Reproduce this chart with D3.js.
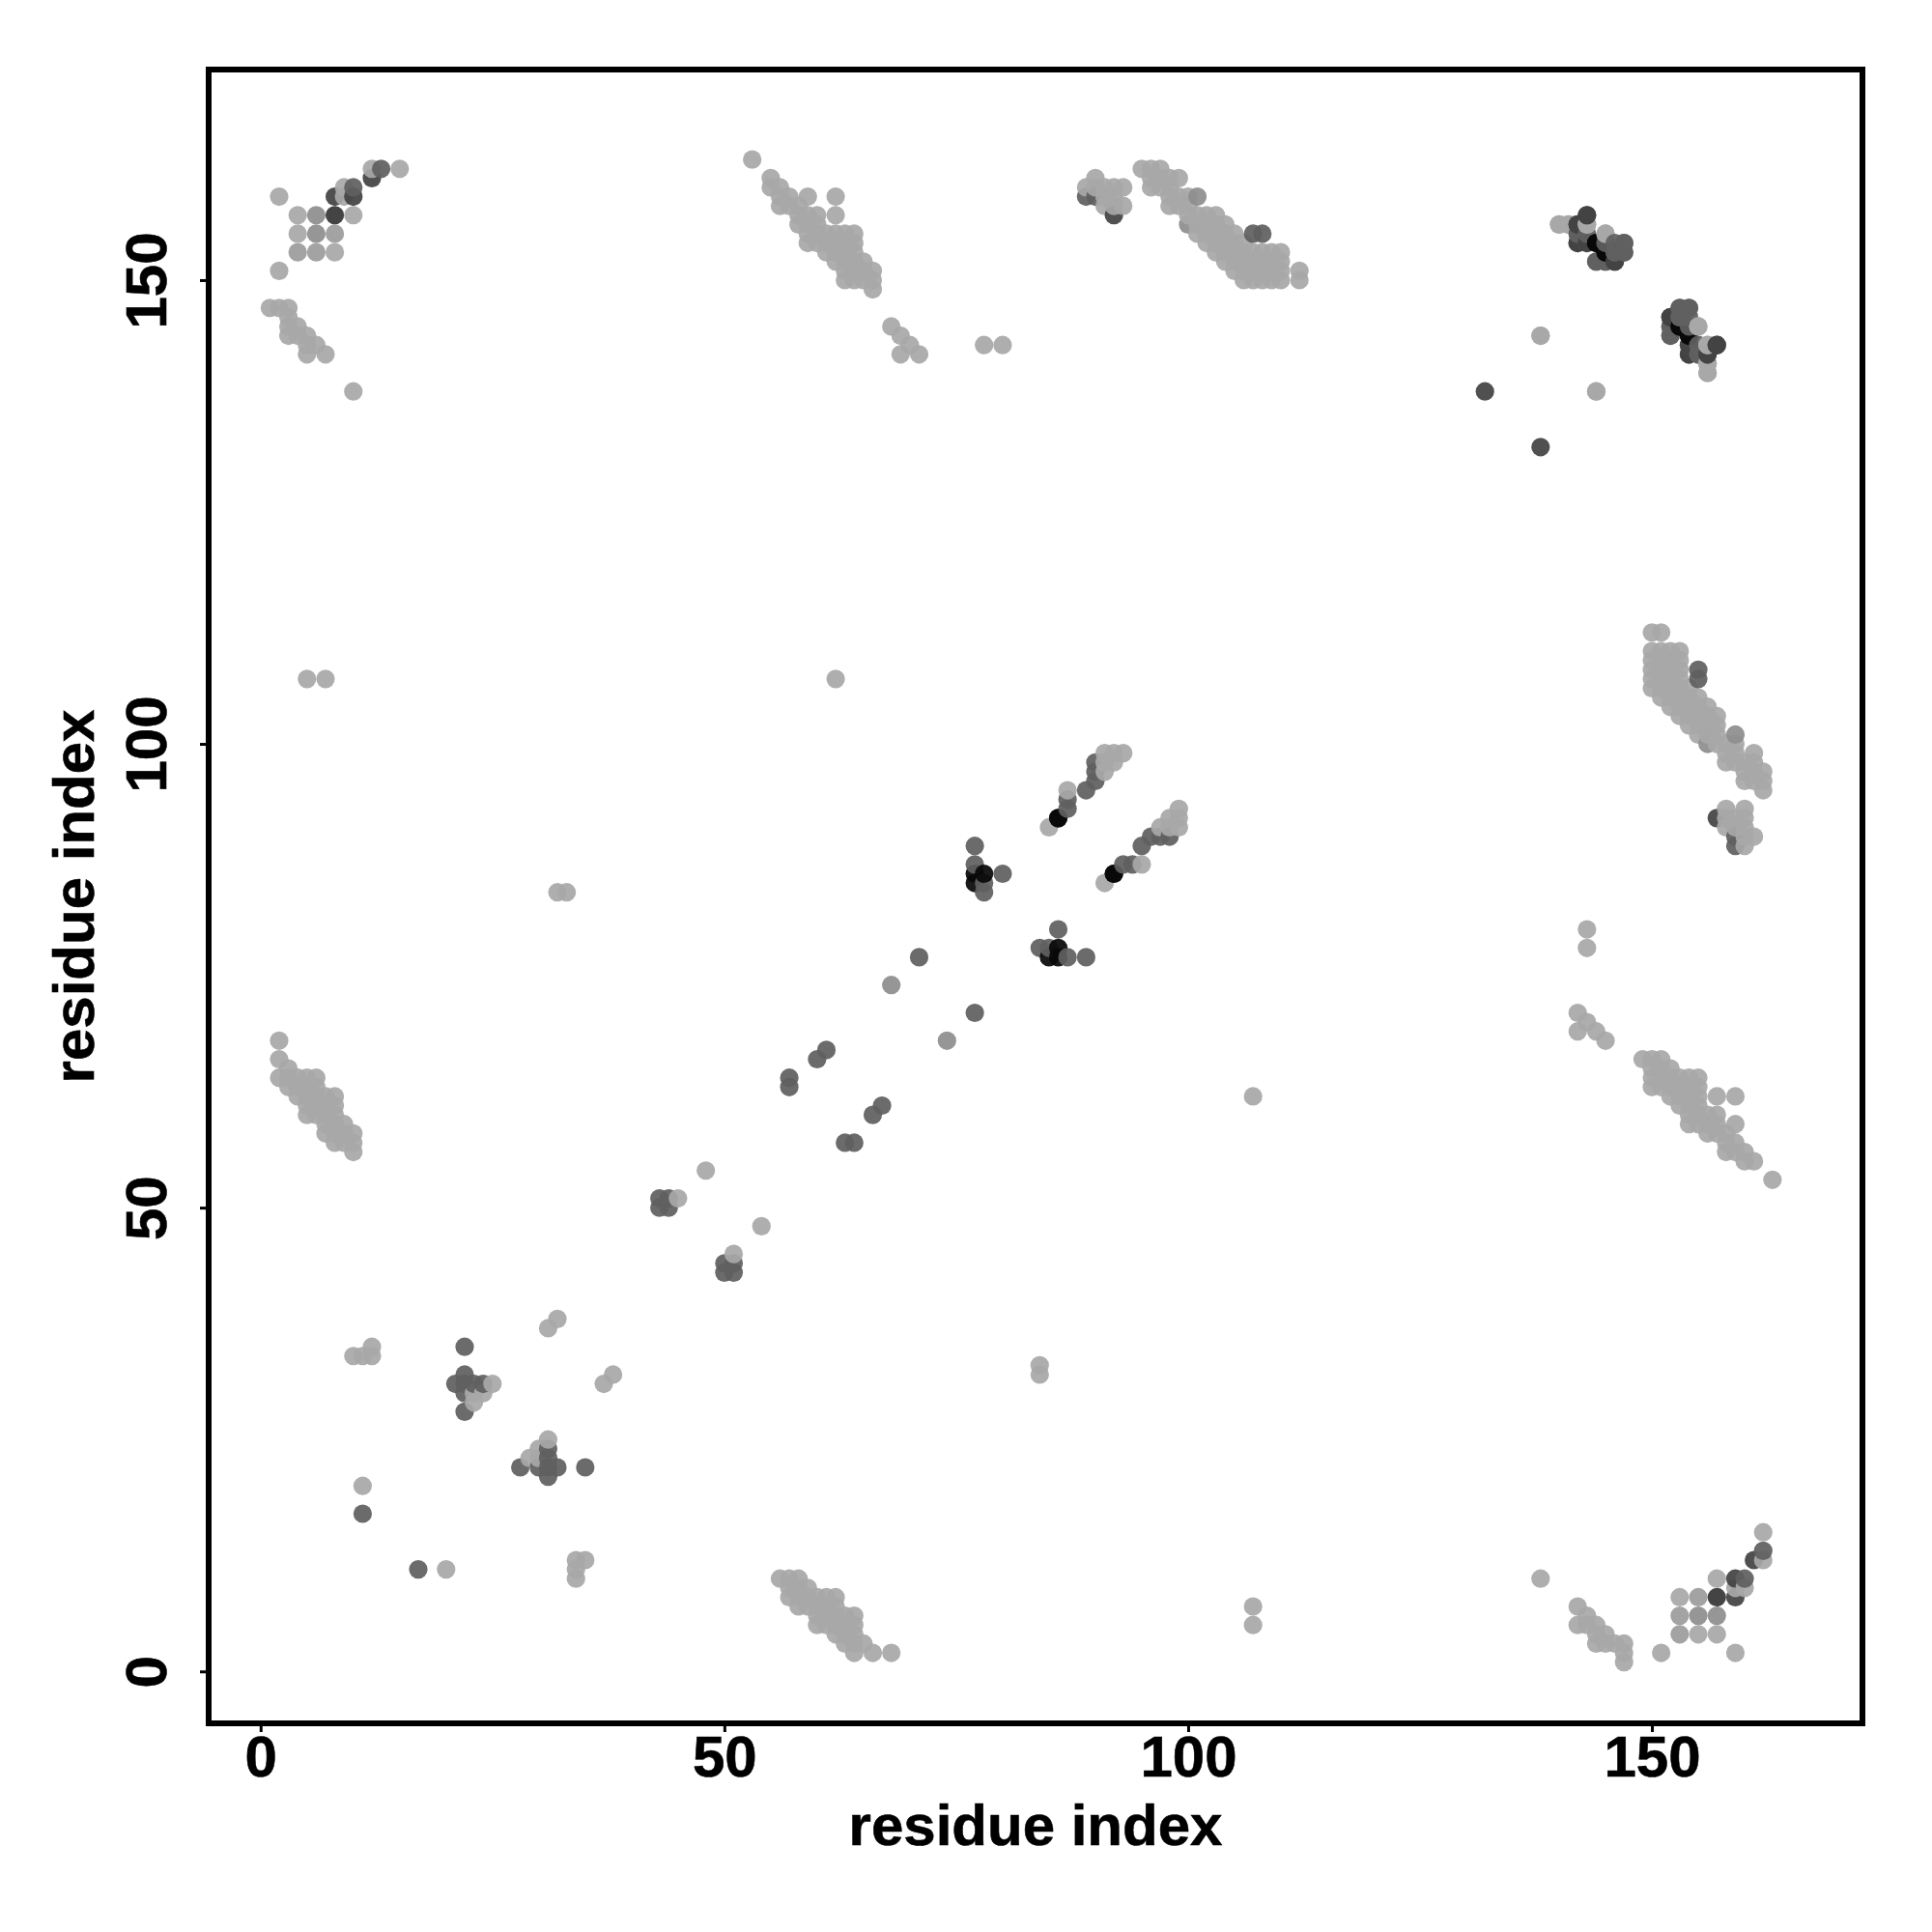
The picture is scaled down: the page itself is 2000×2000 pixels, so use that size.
<!DOCTYPE html>
<html>
<head>
<meta charset="utf-8">
<script src="https://cdn.jsdelivr.net/npm/d3@7"></script>
<style>html,body{margin:0;padding:0;background:#fff}svg{display:block}</style>
</head>
<body>
<svg id="chart" width="2000" height="2000"></svg>
<script>
const xTickValues = [0, 50, 100, 150];
const yTickValues = [0, 50, 100, 150];
const xTitle = "residue index";
const yTitle = "residue index";

// Residue contacts [i, j] (i < j), grouped by contact strength; the map is symmetric.
const contactsWeak = [
  [15,162],[12,162],[9,160],[9,159],[10,157],[4,157],[2,159],[4,155],[8,153],[2,151],
  [1,147],[2,147],[3,147],[3,146],[3,145],[3,144],[4,145],[4,144],[5,144],[5,143],[5,142],[6,143],[7,142],[10,138],
  [53,163],[55,161],[55,160],[56,160],[56,159],[56,158],[57,159],[57,158],[58,158],[58,157],[58,156],
  [59,159],[59,157],[59,156],[59,155],[59,154],[60,157],[60,156],[60,155],[60,154],[61,155],[61,154],[61,153],
  [62,159],[62,157],[62,155],[62,154],[62,153],[62,152],[63,155],[63,154],[63,153],[63,152],[63,151],[63,150],
  [64,155],[64,154],[64,153],[64,152],[64,151],[64,150],[65,152],[65,151],[65,150],[66,151],[66,150],[66,149],
  [68,145],[69,144],[69,142],[70,143],[71,142],[78,143],[80,143],
  [90,161],[89,160],[90,160],[91,160],[91,159],[91,158],[92,160],[92,159],[92,158],[93,160],[93,158],
  [95,162],[96,162],[97,162],[96,161],[96,160],[97,161],[97,160],[98,161],[98,160],[98,159],[98,158],
  [99,161],[99,159],[99,158],[100,159],[100,158],[100,157],[101,157],[101,156],[101,155],
  [102,157],[102,156],[102,155],[102,154],[103,157],[103,156],[103,155],[103,154],[103,153],
  [104,156],[104,155],[104,154],[104,153],[104,152],[105,155],[105,154],[105,153],[105,152],[105,151],
  [106,154],[106,153],[106,152],[106,151],[106,150],[107,153],[107,152],[107,151],[107,150],
  [108,153],[108,152],[108,151],[108,150],[109,153],[109,152],[109,151],[109,150],
  [110,153],[110,152],[110,151],[110,150],[112,151],[112,150],
  [140,156],[141,156],[143,156],[145,155],[144,138],[138,144],[155,145],[156,143],[156,141],[156,140],
  [85,91],[87,95],[91,97],[91,98],[91,99],[92,98],[92,99],[93,99],
  [25,31],[23,30],[24,30],[23,29],[11,20],[10,34],[11,34],[12,34],[12,35],[31,37],[32,38],[32,84],[33,84],
  [45,51],[48,54],[62,107],[5,107],[7,107],
  [2,68],[2,66],[2,64],[3,65],[3,64],[3,63],[4,64],[4,63],[4,62],[5,64],[5,63],[5,62],[5,61],[5,60],
  [6,64],[6,63],[6,62],[6,61],[6,60],[7,62],[7,61],[7,60],[7,59],[7,58],
  [8,62],[8,61],[8,60],[8,59],[8,58],[8,57],[9,59],[9,58],[9,57],[10,58],[10,57],[10,56]
];
const contactsFair = [[4,153],[6,153],[8,155]];
const contactsModerate = [[6,157],[6,155],[101,159],[100,156],[68,74]];
const contactsMedium = [[152,144]];
const contactsStrong = [
  [13,162],[10,160],[89,159],[90,159],
  [142,155],[143,155],[143,154],[144,152],[145,152],[146,154],[147,154],[147,153],[146,153],
  [153,147],[154,147],[152,145],[153,146],[154,145],[155,142],[107,155],[108,155],
  [77,89],[77,87],[78,85],[78,84],[80,86],[87,93],[87,94],[89,95],[90,96],[90,97],[90,98],
  [22,35],[22,32],[21,31],[22,31],[23,31],[24,31],[22,30],[22,28],[11,17],
  [43,50],[44,50],[43,51],[44,51],[57,63],[57,64],[60,66],[61,67],[71,77]
];
const contactsVeryStrong = [
  [12,161],[10,159],[8,159],[92,157],[143,157],[142,156],[142,154],[146,152],
  [152,146],[154,143],[154,142],[156,142],[157,143],[132,138]
];
const contactsHeavy = [[8,157]];
const contactsStrongest = [[144,154],[145,153],[153,145],[154,144],[77,86],[77,85],[78,86],[86,92],[92,86]];

const groups = [
  [contactsWeak, 168], [contactsFair, 156], [contactsModerate, 142], [contactsMedium, 109],
  [contactsStrong, 96], [contactsVeryStrong, 67], [contactsHeavy, 54], [contactsStrongest, 9]
];

const points = [];
groups.forEach(([list, g]) => list.forEach(([i, j]) => {
  points.push({x: i, y: j, g});
  points.push({x: j, y: i, g});
}));
points.sort((a, b) => d3.ascending(a.x, b.x) || d3.ascending(a.y, b.y));

const left = 216, right = 1928, top_ = 72, bottom = 1784;
const x = d3.scaleLinear().domain([-5.6, 172.7]).range([left, right]);
const y = d3.scaleLinear().domain([-5.6, 172.7]).range([bottom, top_]);

const FONT = "'Liberation Sans', Arial, sans-serif";
const svg = d3.select("#chart");
svg.append("rect").attr("width", 2000).attr("height", 2000).attr("fill", "#fff");

svg.append("g").selectAll("circle").data(points).join("circle")
  .attr("cx", d => x(d.x))
  .attr("cy", d => y(d.y))
  .attr("r", 9.6)
  .attr("fill", d => d3.rgb(d.g, d.g, d.g).formatHex())
  .attr("fill-opacity", 0.93);

svg.append("rect")
  .attr("x", left).attr("y", top_)
  .attr("width", right - left).attr("height", bottom - top_)
  .attr("fill", "none").attr("stroke", "#000").attr("stroke-width", 6);

const gx = svg.append("g").attr("transform", `translate(0,${bottom})`)
  .call(d3.axisBottom(x).tickValues(xTickValues).tickSize(9).tickPadding(0));
gx.select(".domain").remove();
gx.selectAll("line").attr("stroke", "#000").attr("stroke-width", 3);
gx.selectAll("text")
  .attr("y", 55).attr("dy", 0)
  .attr("font-family", FONT).attr("font-weight", "bold").attr("font-size", 60).attr("fill", "#000")
  .attr("stroke", "#000").attr("stroke-width", 0.6);

const gy = svg.append("g").attr("transform", `translate(${left},0)`)
  .call(d3.axisLeft(y).tickValues(yTickValues).tickSize(9).tickPadding(0));
gy.select(".domain").remove();
gy.selectAll("line").attr("stroke", "#000").attr("stroke-width", 3);
gy.selectAll("text")
  .attr("x", 0).attr("y", 0).attr("dy", 0)
  .attr("text-anchor", "middle")
  .attr("transform", "translate(-44,0) rotate(-90)")
  .attr("font-family", FONT).attr("font-weight", "bold").attr("font-size", 60).attr("fill", "#000")
  .attr("stroke", "#000").attr("stroke-width", 0.6);

svg.append("text")
  .attr("x", (left + right) / 2).attr("y", 1910)
  .attr("text-anchor", "middle")
  .attr("font-family", FONT).attr("font-weight", "bold").attr("font-size", 60)
  .attr("stroke", "#000").attr("stroke-width", 0.6)
  .text(xTitle);

svg.append("text")
  .attr("transform", `translate(97,${(top_ + bottom) / 2}) rotate(-90)`)
  .attr("text-anchor", "middle")
  .attr("font-family", FONT).attr("font-weight", "bold").attr("font-size", 60)
  .attr("stroke", "#000").attr("stroke-width", 0.6)
  .text(yTitle);
</script>
</body>
</html>
